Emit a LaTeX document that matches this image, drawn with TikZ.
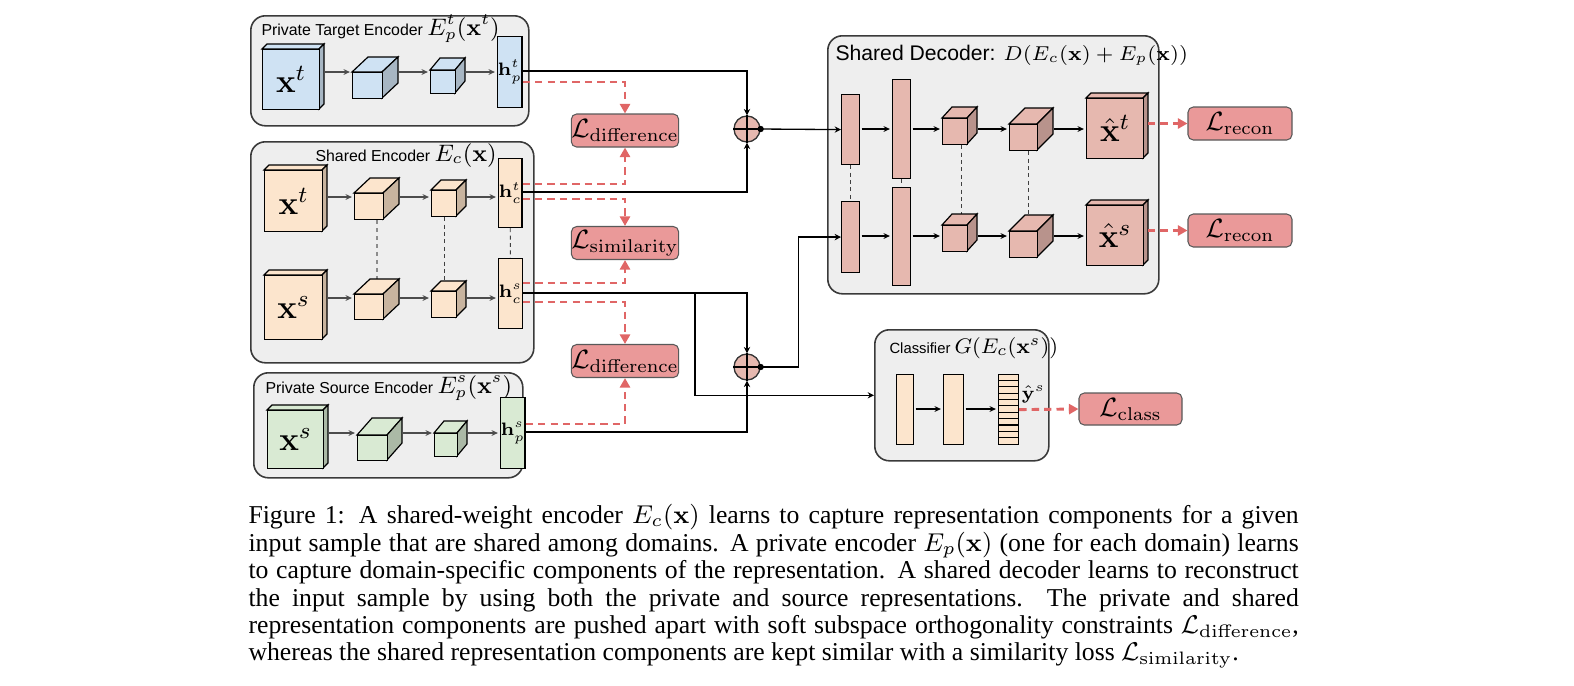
\RequirePackage{fix-cm}
\documentclass[tikz,border=0pt]{standalone}
\usepackage[no-math]{fontspec}
\setmainfont{Liberation Serif}
\setsansfont{Liberation Sans}
\usetikzlibrary{arrows.meta,calc}
\definecolor{blF}{HTML}{CFE2F3}
\definecolor{blS}{HTML}{A7B6C3}
\definecolor{orF}{HTML}{FCE5CD}
\definecolor{orS}{HTML}{C8B49F}
\definecolor{grF}{HTML}{D9EAD3}
\definecolor{grS}{HTML}{ABB9A6}
\definecolor{pkF}{HTML}{E6B8AF}
\definecolor{pkS}{HTML}{B8938C}
\definecolor{lossF}{HTML}{EA9999}
\definecolor{redD}{HTML}{E06666}
\definecolor{grpF}{HTML}{EEEEEE}
\definecolor{grpD}{HTML}{3A3A3A}
\newcommand\pxu{0.378pt}
\newcommand\inpf{\fontsize{12.5}{14}\selectfont}
\newcommand\hfnt{\fontsize{6.8}{7}\selectfont}
\newcommand\sfsm{\sffamily\fontsize{6}{7}\selectfont}
% cube: name, x, y, w, h, depth-right, depth-up, colour prefix, text
\newcommand\mkcube[9]{%
  \filldraw[fill=#8F,line width=0.45pt] (#2,#3) -- ++(#6,-#7) -- ++(#4,0) -- ++(-#6,#7) -- cycle;
  \filldraw[fill=#8S,line width=0.45pt] (#2+#4,#3) -- ++(#6,-#7) -- ++(0,#5) -- ++(-#6,#7) -- cycle;
  \node[draw,line width=0.45pt,fill=#8F,inner sep=0,minimum width=#4*\pxu,minimum height=#5*\pxu,anchor=north west] (#1) at (#2,#3) {#9};
  \coordinate (#1r) at (#2+#4+#6,#3+#5/2);}
\newcommand\mkrect[7]{%
  \node[draw,line width=0.45pt,fill=#6,inner sep=0,minimum width=#4*\pxu,minimum height=#5*\pxu,anchor=north west] (#1) at (#2,#3) {#7};}
\pgfdeclarelayer{grp}
\pgfdeclarelayer{mid}
\pgfsetlayers{grp,mid,main}
\tikzset{
  grpbox/.style={draw=grpD,fill=grpF,rounded corners=5.5pt,line width=0.6pt,inner sep=0,anchor=north west},
  ttl/.style={anchor=base west,inner sep=0},
  loss/.style={draw=black!65,fill=lossF,rounded corners=2pt,inner sep=0,minimum width=104*\pxu,minimum height=33*\pxu,font=\fontsize{10}{12}\selectfont},
  garr/.style={draw=black!70,line width=0.45pt,-{Stealth[length=2.4pt,width=2.2pt]},shorten <=0.5pt,shorten >=0.8pt},
  barr/.style={draw=black,line width=0.45pt,-{Stealth[length=2.4pt,width=2.2pt]},shorten <=0.5pt,shorten >=0.8pt},
  conn/.style={draw=black,line width=0.5pt},
  carr/.style={draw=black,line width=0.5pt,-{Stealth[length=2.4pt,width=2.4pt]}},
  rdash/.style={draw=redD,line width=1.1pt,dash pattern=on 2.8pt off 1.9pt,-{Triangle[length=3.6pt,width=3.8pt]}},
  vdashl/.style={draw=black!45,line width=0.4pt,dash pattern=on 1.6pt off 1.4pt},
  vdashd/.style={draw=black!75,line width=0.35pt,dash pattern=on 1.5pt off 1.3pt},
  sumn/.style={circle,draw=black!80,fill=pkF,minimum size=26*\pxu,inner sep=0,line width=0.5pt}
}
\begin{document}
\begin{tikzpicture}[x=0.378pt,y=-0.378pt]
\useasboundingbox (0,0) rectangle (1574,685);
% ---------- group boxes ----------
\begin{pgfonlayer}{grp}
\node[grpbox,minimum width=278*\pxu,minimum height=110*\pxu] (gpt) at (250,15) {};
\node[grpbox,minimum width=283*\pxu,minimum height=221*\pxu] (gse) at (250,141) {};
\node[grpbox,minimum width=269*\pxu,minimum height=105*\pxu] (gps) at (253,372) {};
\node[grpbox,minimum width=331*\pxu,minimum height=258*\pxu] (gdec) at (827,35) {};
\node[grpbox,minimum width=174*\pxu,minimum height=131*\pxu] (gcls) at (874,329) {};
\end{pgfonlayer}
% ---------- titles ----------
\node[ttl] (tpt) at (261,35) {\sfsm Private Target Encoder {\fontsize{9}{10}\selectfont$E_p^t(\mathbf{x}^t)$}};
\node[ttl] (tse) at (315,161) {\sfsm Shared Encoder {\fontsize{9}{10}\selectfont$E_c(\mathbf{x})$}};
\node[ttl] (tps) at (265,393) {\sfsm Private Source Encoder {\fontsize{9}{10}\selectfont$E_p^s(\mathbf{x}^s)$}};
\node[ttl] (tdec) at (835,60) {\sffamily\fontsize{8}{9}\selectfont Shared Decoder: {\fontsize{7.6}{9}\selectfont$D(E_c(\mathbf{x})+E_p(\mathbf{x}))$}};
\node[ttl] (tcls) at (889,353) {\sffamily\fontsize{5.6}{7}\selectfont Classifier {\fontsize{8}{9}\selectfont$G(E_c(\mathbf{x}^s))$}};
% ---------- private target encoder ----------
\mkcube{pti}{262}{49}{57}{60}{5}{5}{bl}{\inpf$\mathbf{x}^t$}
\mkcube{ptc1}{352}{72}{30}{26}{16}{15}{bl}{}
\mkcube{ptc2}{430}{70}{25}{23}{10}{12}{bl}{}
\mkrect{hpt}{497}{36}{18}{71}{blF}{\hfnt$\mathbf{h}_p^t$}
\draw[garr] (ptir |- 0,72) -- (ptc1.west |- 0,72);
\draw[garr] (ptc1r |- 0,72) -- (ptc2.west |- 0,72);
\draw[garr] (ptc2r |- 0,72) -- (hpt.west |- 0,72);
% ---------- shared encoder ----------
\mkcube{sti}{264}{170}{58}{61}{5}{5}{or}{\inpf$\mathbf{x}^t$}
\mkcube{stc1}{354}{193}{29}{26}{16}{15}{or}{}
\mkcube{stc2}{431}{190}{25}{26}{10}{10}{or}{}
\mkrect{hct}{498}{158}{20}{69}{orF}{\hfnt$\mathbf{h}_c^t$}
\mkcube{ssi}{264}{275}{58}{64}{5}{5}{or}{\inpf$\mathbf{x}^s$}
\mkcube{ssc1}{354}{294}{29}{25}{16}{15}{or}{}
\mkcube{ssc2}{431}{291}{25}{26}{10}{10}{or}{}
\mkrect{hcs}{498}{258}{20}{70}{orF}{\hfnt$\mathbf{h}_c^s$}
\draw[garr] (stir |- 0,197) -- (stc1.west |- 0,197);
\draw[garr] (stc1r |- 0,197) -- (stc2.west |- 0,197);
\draw[garr] (stc2r |- 0,197) -- (hct.west |- 0,197);
\draw[garr] (ssir |- 0,298) -- (ssc1.west |- 0,298);
\draw[garr] (ssc1r |- 0,298) -- (ssc2.west |- 0,298);
\draw[garr] (ssc2r |- 0,298) -- (hcs.west |- 0,298);
% ---------- private source encoder ----------
\mkcube{psi}{267}{410}{56}{58}{5}{5}{gr}{\inpf$\mathbf{x}^s$}
\mkcube{psc1}{357}{435}{30}{25}{15}{17}{gr}{}
\mkcube{psc2}{434}{433}{23}{23}{10}{12}{gr}{}
\mkrect{hps}{500}{397}{20}{71}{grF}{\hfnt$\mathbf{h}_p^s$}
\draw[garr] (psir |- 0,433) -- (psc1.west |- 0,433);
\draw[garr] (psc1r |- 0,433) -- (psc2.west |- 0,433);
\draw[garr] (psc2r |- 0,433) -- (hps.west |- 0,433);
% ---------- shared decoder ----------
\mkrect{dr1t}{841}{94}{18}{70}{pkF}{}
\mkrect{dr1b}{841}{201}{18}{71}{pkF}{}
\mkrect{dr2t}{892}{79}{18}{99}{pkF}{}
\mkrect{dr2b}{892}{187}{18}{98}{pkF}{}
\mkcube{cat}{942}{118}{25}{26}{10}{11}{pk}{}
\mkcube{cbt}{1009}{124}{28}{26}{16}{16}{pk}{}
\mkcube{outt}{1086}{98}{57}{60}{5}{5}{pk}{\inpf$\hat{\mathbf{x}}^t$}
\mkcube{cab}{942}{225}{25}{26}{10}{11}{pk}{}
\mkcube{cbb}{1009}{231}{28}{26}{16}{16}{pk}{}
\mkcube{outb}{1086}{205}{57}{60}{5}{5}{pk}{\inpf$\hat{\mathbf{x}}^s$}
\draw[barr] (dr1t.east |- 0,129) -- (dr2t.west |- 0,129);
\draw[barr] (dr2t.east |- 0,129) -- (cat.west |- 0,129);
\draw[barr] (catr |- 0,129) -- (cbt.west |- 0,129);
\draw[barr] (cbtr |- 0,129) -- (outt.west |- 0,129);
\draw[barr] (dr1b.east |- 0,236) -- (dr2b.west |- 0,236);
\draw[barr] (dr2b.east |- 0,236) -- (cab.west |- 0,236);
\draw[barr] (cabr |- 0,236) -- (cbb.west |- 0,236);
\draw[barr] (cbbr |- 0,236) -- (outb.west |- 0,236);
% ---------- weight sharing dashes ----------
\begin{pgfonlayer}{mid}
\draw[vdashl] (stc1.south -| 377,0) -- (ssc1.north -| 377,0);
\draw[vdashd] (stc2.south -| 444,0) -- (ssc2.north -| 444,0);
\draw[vdashd] (hct.south) -- (hcs.north);
\draw[vdashd] (dr1t.south) -- (dr1b.north);
\draw[vdashd] (dr2t.south) -- (dr2b.north);
\draw[vdashd] (cat.south -| 961,0) -- (cab.north -| 961,0);
\draw[vdashd] (cbt.south -| 1028,0) -- (cbb.north -| 1028,0);
\end{pgfonlayer}
% ---------- classifier ----------
\mkrect{cr1}{896}{374}{17}{70}{orF}{}
\mkrect{cr2}{943}{374}{20}{70}{orF}{}
\mkrect{ycls}{998}{374}{20}{70}{orF}{}
\foreach \i in {1,...,10} \draw[line width=0.45pt] ($(ycls.north west)+(0,\i*70/11)$) -- ++(20,0);
\node[anchor=west,inner sep=0.5pt] (yl) at (1020,394) {\fontsize{7}{8}\selectfont$\hat{\mathbf{y}}^s$};
\draw[barr] (cr1.east |- 0,409) -- (cr2.west |- 0,409);
\draw[barr] (cr2.east |- 0,409) -- (ycls.west |- 0,409);
% ---------- losses ----------
\node[loss] (ld1) at (625,130.5) {$\mathcal{L}_{\mathrm{difference}}$};
\node[loss] (lsim) at (625,243) {$\mathcal{L}_{\mathrm{similarity}}$};
\node[loss] (ld2) at (625,361) {$\mathcal{L}_{\mathrm{difference}}$};
\node[loss] (lr1) at (1240,123.5) {$\mathcal{L}_{\mathrm{recon}}$};
\node[loss] (lr2) at (1240,230.5) {$\mathcal{L}_{\mathrm{recon}}$};
\node[loss,minimum width=103*\pxu,minimum height=32*\pxu] (lcl) at (1130.5,409) {$\mathcal{L}_{\mathrm{class}}$};
% ---------- sums ----------
\node[sumn] (s1) at (747,129) {};
\node[sumn] (s2) at (747,367) {};
\draw[conn] (s1.north) -- (s1.south) (s1.west) -- (s1.east);
\draw[conn] (s2.north) -- (s2.south) (s2.west) -- (s2.east);
\fill (s1.east) circle (1.2pt);
\fill (s2.east) circle (1.2pt);
% ---------- solid connectors ----------
\draw[carr] (hpt.east |- 0,71) -| (s1.north);
\draw[carr] (hct.east |- 0,192) -| (s1.south);
\draw[carr] (hcs.east |- 0,293) -| (s2.north);
\coordinate (br) at (695,293);
\draw[carr] (br) |- (gcls.west);
\draw[carr] (hps.east |- 0,432) -| (s2.south);
\draw[carr] (s1.east) -- (dr1t.west);
\draw[carr] (s2.east) -- ++(38,0) |- (dr1b.west);
% ---------- red dashed loss connectors ----------
\draw[rdash] (hpt.east |- 0,82) -| (ld1.north);
\draw[rdash] (hct.east |- 0,184) -| (ld1.south);
\draw[rdash] (hct.east |- 0,199) -| (lsim.north);
\draw[rdash] (hcs.east |- 0,283) -| (lsim.south);
\draw[rdash] (hcs.east |- 0,302) -| (ld2.north);
\draw[rdash] (hps.east |- 0,424) -| (ld2.south);
\draw[rdash] (lr1.west -| outtr) -- (lr1.west);
\draw[rdash] (lr2.west -| outbr) -- (lr2.west);
\draw[rdash] (ycls.east) -- (lcl.west);
% ---------- caption ----------
\node[anchor=north west,inner sep=0,text width=397pt,align=justify,font=\fontsize{9.72}{10.36}\selectfont] (cap) at (248,504) {%
Figure 1: A shared-weight encoder $E_c(\mathbf{x})$ learns to capture representation components for a given\linebreak
input sample that are shared among domains. A private encoder $E_p(\mathbf{x})$ (one for each domain) learns\linebreak
to capture domain-specific components of the representation. A shared decoder learns to reconstruct\linebreak
the input sample by using both the private and source representations.\ \ The private and shared\linebreak
representation components are pushed apart with soft subspace orthogonality constraints $\mathcal{L}_{\mathrm{difference}}$,\linebreak
whereas the shared representation components are kept similar with a similarity loss $\mathcal{L}_{\mathrm{similarity}}$.};
\end{tikzpicture}
\end{document}
